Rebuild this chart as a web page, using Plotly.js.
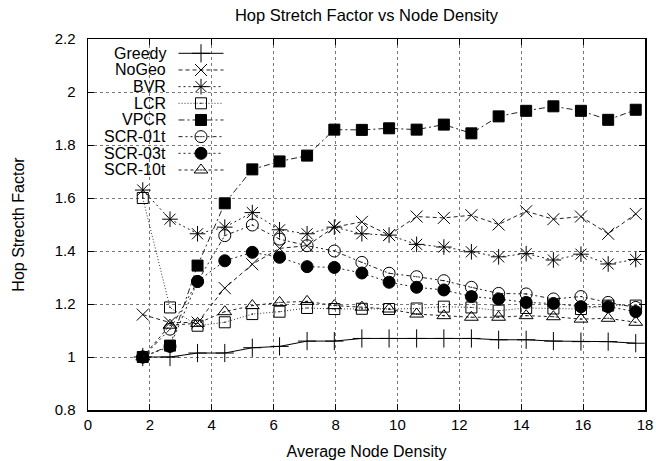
<!DOCTYPE html>
<html><head><meta charset="utf-8">
<script src="https://cdn.plot.ly/plotly-3.0.1.min.js"></script>
<style>html,body{margin:0;padding:0;background:#fff}#chart{width:656px;height:461px}</style>
</head><body><div id="chart"></div>
<script>
// ---- data ----
const density = [1.77, 2.65, 3.54, 4.42, 5.31, 6.19, 7.08, 7.96, 8.85, 9.73, 10.62, 11.5, 12.39, 13.27, 14.16, 15.04, 15.93, 16.81, 17.7];
const greedy = [1.0, 1.0, 1.015, 1.015, 1.035, 1.04, 1.06, 1.06, 1.07, 1.07, 1.07, 1.07, 1.07, 1.065, 1.065, 1.06, 1.058, 1.058, 1.052];
const noGeo  = [1.16, 1.13, 1.13, 1.26, 1.35, 1.41, 1.42, 1.49, 1.51, 1.46, 1.53, 1.525, 1.535, 1.50, 1.55, 1.52, 1.53, 1.465, 1.54];
const bvr    = [1.63, 1.52, 1.465, 1.49, 1.545, 1.48, 1.465, 1.49, 1.465, 1.46, 1.425, 1.415, 1.397, 1.378, 1.39, 1.366, 1.388, 1.351, 1.368];
const lcr    = [1.60, 1.187, 1.118, 1.131, 1.162, 1.171, 1.185, 1.181, 1.182, 1.181, 1.183, 1.19, 1.187, 1.175, 1.185, 1.183, 1.181, 1.194, 1.194];
const vpcr   = [1.0, 1.043, 1.345, 1.58, 1.708, 1.738, 1.76, 1.858, 1.857, 1.863, 1.858, 1.877, 1.844, 1.908, 1.929, 1.946, 1.929, 1.895, 1.933];
const scr01t = [1.0, 1.105, 1.285, 1.458, 1.498, 1.445, 1.42, 1.40, 1.357, 1.316, 1.303, 1.288, 1.263, 1.24, 1.238, 1.219, 1.228, 1.206, 1.187];
const scr03t = [1.0, 1.04, 1.285, 1.363, 1.395, 1.376, 1.341, 1.338, 1.317, 1.282, 1.263, 1.253, 1.228, 1.219, 1.206, 1.202, 1.19, 1.19, 1.171];
const scr10t = [1.0, 1.12, 1.127, 1.171, 1.194, 1.206, 1.21, 1.194, 1.188, 1.181, 1.162, 1.156, 1.15, 1.15, 1.156, 1.152, 1.143, 1.146, 1.131];
const seriesNames = ['Greedy', 'NoGeo', 'BVR', 'LCR', 'VPCR', 'SCR-01t', 'SCR-03t', 'SCR-10t'];
const seriesValues = [greedy, noGeo, bvr, lcr, vpcr, scr01t, scr03t, scr10t];
const xTickVals = [0, 2, 4, 6, 8, 10, 12, 14, 16, 18];
const yTickVals = [0.8, 1, 1.2, 1.4, 1.6, 1.8, 2, 2.2];

// ---- styles ----
const FONT = 'Liberation Sans, Arial, Helvetica, sans-serif';
const styles = [
  {symbol: 'cross-thin-open', size: 13, dash: 'solid', lc: '#000'},
  {symbol: 'x-thin-open', size: 12, dash: '4px,3px', lc: '#222'},
  {symbol: 'asterisk-open', size: 13, dash: '2px,3px', lc: '#222'},
  {symbol: 'square-open-dot', size: 11, dash: '1px,2px', lc: '#333'},
  {symbol: 'square', size: 11, dash: '6px,3px,2px,3px', lc: '#222'},
  {symbol: 'circle-open-dot', size: 12, dash: '4px,3px,2px,3px,2px,3px', lc: '#222'},
  {symbol: 'circle', size: 12, dash: '2px,3px', lc: '#222'},
  {symbol: 'triangle-up-open-dot', size: 12, dash: '3px,3px', lc: '#222'}
];

const traces = [];
seriesNames.forEach((name, i) => {
  const s = styles[i];
  traces.push({
    x: density, y: seriesValues[i], name: name, type: 'scatter', mode: 'lines+markers',
    line: {color: s.lc, width: 1, dash: s.dash},
    marker: {symbol: s.symbol, size: s.size, color: '#000', line: {color: '#000', width: 1}},
    showlegend: false, cliponaxis: false
  });
});

// gnuplot-style key: text right-aligned, then line sample with marker (in pixel-like overlay axes)
const PW = 557, PH = 371;
const keyTextX = 79.5, keyL = 90.5, keyM = 113, keyR = 135.5, keyY0 = 14.3, keyDY = 16.67;
const annotations = [];
seriesNames.forEach((name, i) => {
  const s = styles[i];
  const yy = keyY0 + i * keyDY;
  traces.push({
    x: [keyL, keyM, keyR], y: [yy, yy, yy], xaxis: 'x2', yaxis: 'y2', type: 'scatter', mode: 'lines+markers',
    line: {color: s.lc, width: 1, dash: s.dash},
    marker: {symbol: s.symbol, size: s.size, color: '#000', opacity: [0, 1, 0], line: {color: '#000', width: 1}},
    showlegend: false, hoverinfo: 'skip'
  });
  annotations.push({
    x: keyTextX, y: yy, xref: 'x2', yref: 'y2', text: name, showarrow: false,
    xanchor: 'right', yanchor: 'middle', font: {family: FONT, size: 16, color: '#000'}
  });
});

const axisCommon = {
  showline: true, linecolor: '#000', linewidth: 1.5, mirror: 'allticks',
  ticks: 'inside', ticklen: 6, tickwidth: 1, tickcolor: '#000',
  showgrid: true, gridcolor: '#777', griddash: 'dot', gridwidth: 1,
  zeroline: false, tickfont: {family: FONT, size: 15, color: '#000'}
};

const layout = {
  width: 656, height: 461,
  margin: {l: 88, r: 11, t: 39, b: 51, pad: 0},
  paper_bgcolor: '#fff', plot_bgcolor: '#fff',
  font: {family: FONT, color: '#000'},
  title: {text: 'Hop Stretch Factor vs Node Density', font: {family: FONT, size: 16.5, color: '#000'},
          x: 0.5, xref: 'paper', y: 1 - 15 / 461, yref: 'container', yanchor: 'middle'},
  xaxis: Object.assign({}, axisCommon, {
    range: [0, 18], tickvals: xTickVals, ticktext: xTickVals.map(String), ticklabelstandoff: 0,
    title: {text: 'Average Node Density', font: {family: FONT, size: 16, color: '#000'}, standoff: 14}
  }),
  yaxis: Object.assign({}, axisCommon, {
    range: [0.8, 2.2], tickvals: yTickVals, ticktext: yTickVals.map(v => String(v)), ticklabelstandoff: 8,
    title: {text: 'Hop Strecth Factor', font: {family: FONT, size: 16, color: '#000'}, standoff: 26}
  }),
  xaxis2: {overlaying: 'x', anchor: 'y2', range: [0, PW], visible: false, fixedrange: true},
  yaxis2: {overlaying: 'y', anchor: 'x2', range: [PH, 0], visible: false, fixedrange: true},
  annotations: annotations,
  showlegend: false
};

Plotly.newPlot('chart', traces, layout, {displayModeBar: false, staticPlot: true});
</script>
</body></html>
